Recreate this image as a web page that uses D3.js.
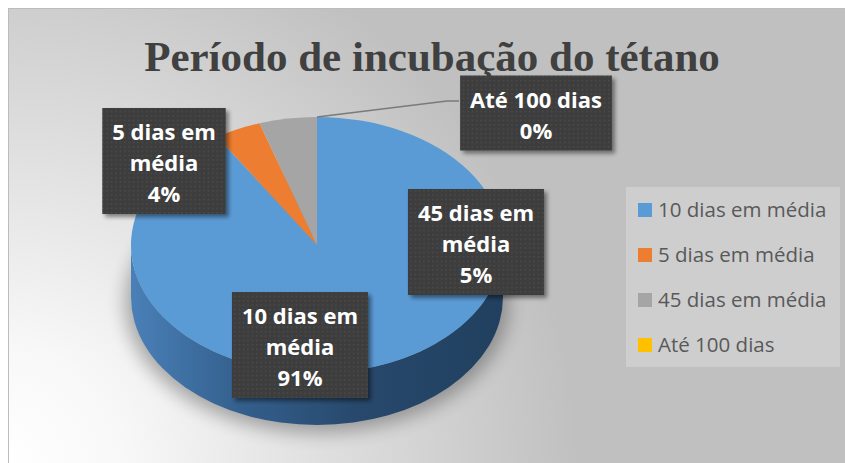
<!DOCTYPE html>
<html>
<head>
<meta charset="utf-8">
<script src="https://cdn.jsdelivr.net/npm/d3@7"></script>
<style>
  html, body { margin: 0; padding: 0; background: #ffffff; overflow: hidden; }
  svg { display: block; }
</style>
</head>
<body>
<div id="chart"></div>
<script>
// --------------- Data ---------------
const categories = ["10 dias em média", "5 dias em média", "45 dias em média", "Até 100 dias"];
const values = [91, 4, 5, 0];
const labelLines = [["10 dias em", "média"], ["5 dias em", "média"], ["45 dias em", "média"], ["Até 100 dias"]];
const colors = ["#5b9bd5", "#ed7d31", "#a5a5a5", "#ffc000"];

// --------------- Layout ---------------
const WIDTH = 845;
const HEIGHT = 463;
const CX = 317, CY = 245, RX = 186, RY = 128, DEPTH = 52;
// label box centres (placed by hand in the original)
const LABEL_POS = [[300, 345], [164, 161], [476, 242], [536, 113]];
const LINE_H = 31;

const svg = d3.select("#chart").append("svg")
  .attr("width", WIDTH)
  .attr("height", HEIGHT);

const defs = svg.append("defs");

const bg = defs.append("radialGradient")
  .attr("id", "bg")
  .attr("gradientUnits", "userSpaceOnUse")
  .attr("cx", 8).attr("cy", 463).attr("r", 570);
bg.append("stop").attr("offset", 0).attr("stop-color", "#ffffff");
bg.append("stop").attr("offset", 0.2).attr("stop-color", "#f8f8f8");
bg.append("stop").attr("offset", 1).attr("stop-color", "#c0c0c0");

const side = defs.append("linearGradient")
  .attr("id", "side")
  .attr("gradientUnits", "userSpaceOnUse")
  .attr("x1", CX - RX).attr("x2", CX + RX).attr("y1", 0).attr("y2", 0);
[[0, "#4a80b8"], [0.3, "#335f8c"], [0.6, "#28496d"], [1, "#21405f"]].forEach(([o, c]) =>
  side.append("stop").attr("offset", o).attr("stop-color", c));

const dots = defs.append("pattern")
  .attr("id", "dots")
  .attr("patternUnits", "userSpaceOnUse")
  .attr("width", 4.4).attr("height", 4.4);
dots.append("rect").attr("width", 4.4).attr("height", 4.4).attr("fill", "#3e3e3e");
dots.append("rect").attr("x", 1).attr("y", 1).attr("width", 1.2).attr("height", 1.2).attr("fill", "#4f4f4f");

defs.append("filter").attr("id", "boxShadow")
  .attr("x", "-20%").attr("y", "-20%").attr("width", "140%").attr("height", "140%")
  .append("feDropShadow")
  .attr("dx", 3).attr("dy", 3).attr("stdDeviation", 2)
  .attr("flood-color", "#000").attr("flood-opacity", 0.45);

defs.append("filter").attr("id", "blur")
  .attr("x", "-30%").attr("y", "-30%").attr("width", "160%").attr("height", "160%")
  .append("feGaussianBlur").attr("stdDeviation", 9);

// --------------- Background ---------------
svg.append("rect")
  .attr("x", 8.5).attr("y", 8.5)
  .attr("width", WIDTH + 20).attr("height", HEIGHT + 20)
  .attr("fill", "url(#bg)")
  .attr("stroke", "#bcbcbc");

// --------------- Pie ---------------
const arcs = d3.pie().sort(null).value((d) => d)(values);
const pt = (a, dy = 0) => [CX + RX * Math.sin(a), CY - RY * Math.cos(a) + dy];

function topPath(d) {
  const p0 = pt(d.startAngle), p1 = pt(d.endAngle);
  const large = d.endAngle - d.startAngle > Math.PI ? 1 : 0;
  return `M${CX},${CY}L${p0}A${RX},${RY} 0 ${large} 1 ${p1}Z`;
}

function sidePath(d) {
  const s = Math.max(d.startAngle, Math.PI / 2);
  const e = Math.min(d.endAngle, Math.PI * 1.5);
  if (e <= s) return null;
  return `M${pt(s)}A${RX},${RY} 0 0 1 ${pt(e)}L${pt(e, DEPTH)}A${RX},${RY} 0 0 0 ${pt(s, DEPTH)}Z`;
}

// soft shadow under the pie
svg.append("ellipse")
  .attr("cx", CX).attr("cy", CY + DEPTH + 6)
  .attr("rx", RX + 6).attr("ry", RY + 2)
  .attr("fill", "#000").attr("opacity", 0.3)
  .attr("filter", "url(#blur)");

const pieG = svg.append("g");
pieG.selectAll("path.side")
  .data(arcs.filter((d) => sidePath(d)))
  .enter().append("path")
  .attr("class", "side")
  .attr("d", sidePath)
  .attr("fill", (d) => (d.index === 0 ? "url(#side)" : d3.color(colors[d.index]).darker(1.2)));

pieG.selectAll("path.top")
  .data(arcs.filter((d) => d.endAngle > d.startAngle))
  .enter().append("path")
  .attr("class", "top")
  .attr("d", topPath)
  .attr("fill", (d) => colors[d.index]);

// --------------- Labels ---------------
const total = d3.sum(values);
const labelG = svg.append("g");

// leader line for the zero slice
const zero = arcs[3];
const lp = LABEL_POS[3];
labelG.append("polyline")
  .attr("points", [pt((zero.startAngle + zero.endAngle) / 2), [lp[0] - 89, lp[1] - 12], [lp[0] - 77, lp[1] - 12]].join(" "))
  .attr("fill", "none")
  .attr("stroke", "#7a7a7a")
  .attr("stroke-width", 1.3);

arcs.forEach((d, i) => {
  const lines = labelLines[i].concat([Math.round((d.value / total) * 100) + "%"]);
  const [x, y] = LABEL_POS[i];
  const g = labelG.append("g");
  const box = g.append("rect").attr("fill", "url(#dots)").attr("filter", "url(#boxShadow)");
  const h = 32 + (lines.length - 1) * LINE_H + 12;
  const t = g.append("text")
    .attr("text-anchor", "middle")
    .attr("font-family", "'Open Sans', sans-serif")
    .attr("font-weight", 700)
    .attr("font-size", 22)
    .attr("fill", "#ffffff");
  lines.forEach((line, k) => {
    t.append("tspan").attr("x", x).attr("y", y - h / 2 + 32 + k * LINE_H).text(line);
  });
  const w = d3.max(t.selectAll("tspan").nodes(), (n) => n.getComputedTextLength()) + 20;
  box.attr("x", x - w / 2).attr("y", y - h / 2).attr("width", w).attr("height", h);
});

// --------------- Legend ---------------
const legend = svg.append("g");
legend.append("rect")
  .attr("x", 626).attr("y", 187).attr("width", 214).attr("height", 180)
  .attr("fill", "#ffffff").attr("opacity", 0.22);

const item = legend.selectAll("g.item")
  .data(categories)
  .enter().append("g")
  .attr("class", "item")
  .attr("transform", (_d, i) => `translate(638,${203 + i * 45})`);
item.append("rect")
  .attr("width", 14).attr("height", 14)
  .attr("fill", (_d, i) => colors[i]);
item.append("text")
  .attr("x", 20).attr("y", 14)
  .attr("font-family", "'Open Sans', sans-serif")
  .attr("font-size", 20.5)
  .attr("fill", "#595959")
  .text((d) => d);

// --------------- Title ---------------
svg.append("text")
  .attr("x", 432).attr("y", 71)
  .attr("text-anchor", "middle")
  .attr("font-family", "'Liberation Serif', 'Times New Roman', serif")
  .attr("font-weight", 700)
  .attr("font-size", 43)
  .attr("fill", "#404040")
  .text("Período de incubação do tétano");
</script>
</body>
</html>
